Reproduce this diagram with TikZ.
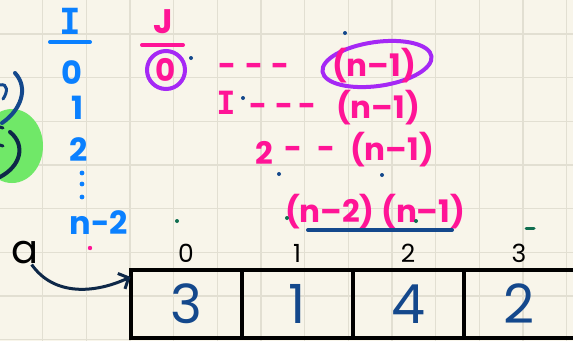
\documentclass[tikz,border=0pt]{standalone}
\usepackage{fontspec}
\setmainfont{Poppins}
\newfontfamily\monof{DejaVu Sans Mono}
\usepackage{tikz}
\usetikzlibrary{arrows.meta,positioning,calc}
\definecolor{paper}{RGB}{248,245,234}
\definecolor{gridc}{RGB}{226,223,210}
\definecolor{skyink}{RGB}{10,128,255}
\definecolor{pinkink}{RGB}{255,20,150}
\definecolor{violetink}{RGB}{165,40,245}
\definecolor{navyink}{RGB}{20,72,140}
\definecolor{darkink}{RGB}{14,40,72}
\definecolor{greenink}{RGB}{16,110,80}
\definecolor{blob}{RGB}{112,232,104}

\begin{document}
\begin{tikzpicture}[x=1pt, y=-1pt,
  hand/.style={inner sep=0pt, font=\fontsize{32}{32}\selectfont\bfseries},
  sky/.style={hand, text=skyink},
  pk/.style={hand, text=pinkink, font=\fontsize{31}{31}\selectfont\bfseries},
  idx/.style={inner sep=0pt, font=\fontsize{25}{25}\selectfont},
  cell/.style={draw=black, line width=4pt, minimum width=111pt, minimum height=68pt,
               inner sep=0pt, outer sep=0pt, text=navyink,
               font=\fontsize{54}{54}\selectfont},
  pen/.style={line width=4pt, line cap=round},
  ar/.style={-{Straight Barb[length=8pt, width=17pt]}, line width=3pt, darkink}]
\useasboundingbox (0,0) rectangle (573,341);
\fill[paper] (0,0) rectangle (573,341);
% squared paper
\foreach \k in {0,...,13}
  \draw[gridc, line width=1.5pt] ({-1+43.67*\k},0) -- ({-1+43.67*\k},341);
\foreach \k in {0,...,7}
  \draw[gridc, line width=1.5pt] (0,{34+43.67*\k}) -- (573,{34+43.67*\k});

% cut-off strokes on the left edge
\fill[blob] (12,146) ellipse (31 and 37);
\draw[pen, navyink] (15,73) .. controls (29,88) and (21,110) .. (2,123);
\draw[pen, navyink, line width=3pt] (0,85) .. controls (8,83) and (8,92) .. (3,99);
\draw[pen, darkink] (10,132) .. controls (26,145) and (21,166) .. (0,177);
\draw[pen, darkink, line width=3pt] (0,127) -- (3,128);
\draw[pen, darkink, line width=3pt] (0,145) -- (3,146);

% i column
\node[sky, font=\fontsize{36}{36}\selectfont\bfseries\monof] (bI) at (70,21) {I};
\draw[pen, skyink] ($(bI.center)+(-20,21)$) -- ($(bI.center)+(20,21)$);
\node[sky] (b0) at (72,73) {0};
\node[sky] (b1) at (78,108) {1};
\node[sky] (b2) at (79,150) {2};
\foreach \y in {173,184,197}
  \fill[skyink] (82,\y) circle (2.4);
\node[sky] (bn2) at (99,223) {n-2};

% j column
\node[pk, font=\fontsize{34}{34}\selectfont\bfseries] (pJ) at (163,22) {J};
\draw[pen, pinkink] ($(pJ.center)+(-21,23)$) -- ($(pJ.center)+(20,23)$);
\node[pk] (p0) at (166,70) {0};
\draw[pen, violetink] (p0.center) circle (19);

% rows
\draw[pen, violetink, rotate around={8:(377,64)}] (377,64) ellipse (55 and 22);
\node[pk] (pd1) at (254,70) {-\hspace{9pt}-\hspace{9pt}-};
\node[pk] (pn1a) at (374,66) {(n--1)};
\node[pk, font=\fontsize{32}{32}\selectfont\bfseries\monof] (pI) at (226,103) {I};
\node[pk] (pd2) at (283,110) {-\hspace{8pt}-\,-};
\node[pk] (pn1b) at (378,108) {(n--1)};
\node[pk] (p2) at (264,153) {2};
\node[pk] (pd3) at (310,153) {-\hspace{16pt}-};
\node[pk] (pn1c) at (392,150) {(n--1)};
\node[pk] (pn2) at (375,212) {(n--2) (n--1)};
\draw[pen, navyink] ($(pn2.center)+(-67,18)$) -- ($(pn2.center)+(77,18)$);

% stray dots
\foreach \p in {(191,58),(345,33),(243,98),(279,174),(382,175)}
  \fill[navyink] \p circle (2);
\fill[pinkink] (90,248) circle (2.2);
\foreach \p in {(177,221),(287,218),(416,221)}
  \fill[greenink] \p circle (2);
\draw[pen, greenink, line width=3pt] (526,228) -- (534,228);

% the array
\node[cell] (c0) at (186,304) {3};
\node[cell, right=0pt of c0] (c1) {1};
\node[cell, right=0pt of c1] (c2) {4};
\node[cell, right=0pt of c2] (c3) {2};
\node[idx, above=7pt of c0] (i0) {0};
\node[idx, above=7pt of c1] (i1) {1};
\node[idx, above=7pt of c2] (i2) {2};
\node[idx, above=7pt of c3] (i3) {3};
\node[inner sep=0pt, font=\fontsize{40}{40}\selectfont] (a) at (25,253) {a};
\draw[ar] (a.300) to[out=-55, in=205] (c0.154);
\end{tikzpicture}
\end{document}
